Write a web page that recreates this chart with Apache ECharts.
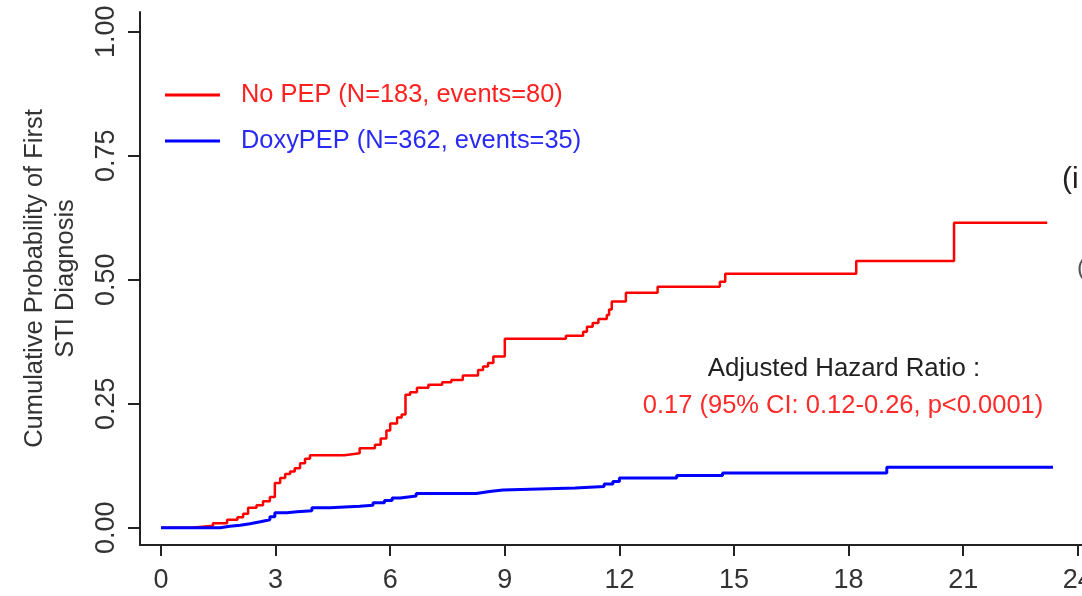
<!DOCTYPE html>
<html>
<head>
<meta charset="utf-8">
<script src="https://cdn.jsdelivr.net/npm/echarts@6/dist/echarts.min.js"></script>
<style>
  html, body { margin: 0; padding: 0; background: #fff; }
  #chart { width: 1082px; height: 596px; }
</style>
</head>
<body>
<div id="chart"></div>
<script>
// months since start, cumulative probability (Kaplan-Meier style steps)
const noPepPoints = [
  [0, 0], [0.8, 0.004], [1.36, 0.009], [1.73, 0.016], [2.0, 0.021], [2.15, 0.028],
  [2.28, 0.040], [2.5, 0.045], [2.67, 0.053], [2.85, 0.062], [2.98, 0.090], [3.12, 0.100],
  [3.25, 0.108], [3.38, 0.113], [3.5, 0.120], [3.64, 0.130], [3.77, 0.139], [3.9, 0.146],
  [4.8, 0.150], [5.2, 0.160], [5.6, 0.167], [5.75, 0.180], [5.9, 0.196], [6.0, 0.210],
  [6.18, 0.222], [6.3, 0.228], [6.4, 0.268], [6.52, 0.273], [6.7, 0.282], [7.0, 0.288],
  [7.36, 0.293], [7.6, 0.298], [7.9, 0.307], [8.3, 0.318], [8.43, 0.325], [8.56, 0.332],
  [8.7, 0.345], [9.0, 0.381], [10.6, 0.387], [11.05, 0.395], [11.15, 0.405], [11.3, 0.413],
  [11.45, 0.421], [11.67, 0.429], [11.73, 0.440], [11.8, 0.456], [12.17, 0.474], [13.0, 0.486],
  [14.63, 0.496], [14.77, 0.512], [18.2, 0.538], [20.76, 0.615], [23.2, 0.615]
];
const doxyPepPoints = [
  [0, 0], [1.55, 0.003], [1.8, 0.005], [2.07, 0.008], [2.33, 0.012], [2.6, 0.016],
  [2.85, 0.022], [2.98, 0.030], [3.3, 0.032], [3.56, 0.034], [3.95, 0.040], [4.42, 0.043],
  [5.2, 0.045], [5.55, 0.050], [5.85, 0.055], [6.05, 0.060], [6.26, 0.064], [6.68, 0.069],
  [8.25, 0.073], [8.6, 0.076], [8.95, 0.080], [10.84, 0.083], [11.6, 0.088], [11.83, 0.093],
  [12.0, 0.100], [13.5, 0.105], [14.7, 0.110], [19.0, 0.122], [23.35, 0.122]
];
const xTicks = [0, 3, 6, 9, 12, 15, 18, 21, 24];
const yTicks = [0, 0.25, 0.5, 0.75, 1];
const seriesNames = ["No PEP (N=183, events=80)", "DoxyPEP (N=362, events=35)"];
const hrTitle = "Adjusted Hazard Ratio :";
const hrText = "0.17 (95% CI: 0.12-0.26, p<0.0001)";

const RED = "#ff0000";
const BLUE = "#0000ff";
const FONT = "Liberation Sans, Arial, sans-serif";
const NARROW = "Liberation Sans Narrow, Arial Narrow, Liberation Sans, sans-serif";

const chart = echarts.init(document.getElementById("chart"));
const option = {
  animation: false,
  backgroundColor: "#fff",
  textStyle: { fontFamily: FONT },
  grid: { left: 140, top: 12, width: 976, bottom: 51, outerBoundsMode: "none" },
  legend: {
    orient: "vertical",
    left: 160,
    top: 77,
    itemWidth: 55,
    itemHeight: 3,
    itemGap: 20,
    icon: "rect",
    data: [
      { name: seriesNames[0], textStyle: { color: "#ff2020" } },
      { name: seriesNames[1], textStyle: { color: "#2a2af5" } },
    ],
    textStyle: { fontSize: 25.4, lineHeight: 26, padding: [0, 0, 0, 16], fontFamily: FONT },
  },
  xAxis: {
    type: "value",
    min: -0.55,
    max: 25,
    splitLine: { show: false },
    axisLine: { onZero: false, lineStyle: { color: "#222", width: 2 } },
    axisTick: { length: 11, customValues: xTicks, lineStyle: { color: "#222", width: 2 } },
    axisLabel: { customValues: xTicks, margin: 22, fontSize: 27, color: "#333", fontFamily: NARROW },
  },
  yAxis: {
    type: "value",
    min: -0.035,
    max: 1.04,
    name: "Cumulative Probability of First\nSTI Diagnosis",
    nameLocation: "middle",
    nameRotate: 90,
    nameGap: 59,
    nameTextStyle: { fontSize: 25.5, lineHeight: 31, color: "#333", fontFamily: FONT },
    splitLine: { show: false },
    axisLine: { show: true, onZero: false, lineStyle: { color: "#222", width: 2 } },
    axisTick: { show: true, length: 12, customValues: yTicks, lineStyle: { color: "#222", width: 2 } },
    axisLabel: {
      customValues: yTicks,
      rotate: 90,
      margin: 20,
      fontSize: 27,
      color: "#333",
      fontFamily: NARROW,
      formatter: (v) => v.toFixed(2),
    },
  },
  series: [
    {
      name: seriesNames[0],
      type: "line",
      step: "end",
      showSymbol: false,
      color: RED,
      lineStyle: { color: RED, width: 2.5 },
      data: noPepPoints,
      z: 2,
    },
    {
      name: seriesNames[1],
      type: "line",
      step: "end",
      showSymbol: false,
      color: BLUE,
      lineStyle: { color: BLUE, width: 3 },
      data: doxyPepPoints,
      z: 3,
    },
  ],
  graphic: [
    {
      type: "text",
      x: 844,
      y: 369,
      style: { text: hrTitle, fill: "#222", font: "25.8px " + FONT, align: "center", verticalAlign: "middle" },
    },
    {
      type: "text",
      x: 843,
      y: 406,
      style: { text: hrText, fill: "#ff2a2a", font: "25.5px " + FONT, align: "center", verticalAlign: "middle" },
    },
    // cut-off text from the neighbouring panel
    {
      type: "text",
      x: 1062,
      y: 180,
      style: { text: "(i", fill: "#222", font: "30px " + FONT, align: "left", verticalAlign: "middle" },
    },
    {
      type: "text",
      x: 1077,
      y: 268,
      style: { text: "(", fill: "#555", font: "24px " + FONT, align: "left", verticalAlign: "middle" },
    },
  ],
};
chart.setOption(option);
</script>
</body>
</html>
